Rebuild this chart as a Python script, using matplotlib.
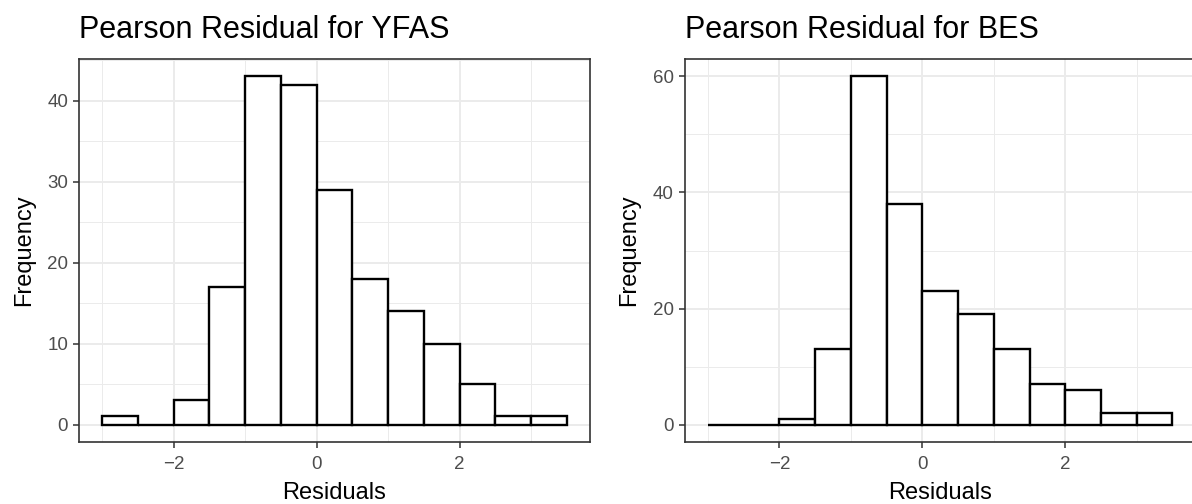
import matplotlib
matplotlib.use("Agg")
import matplotlib.pyplot as plt
import numpy as np

plt.rcParams['font.family'] = ['Liberation Sans', 'DejaVu Sans']

# Histogram bins (edges) shared by both panels
bin_edges = [-3.0, -2.5, -2.0, -1.5, -1.0, -0.5, 0.0, 0.5, 1.0, 1.5, 2.0, 2.5, 3.0, 3.5]
yfas_counts = [1, 0, 3, 17, 43, 42, 29, 18, 14, 10, 5, 1, 1]
bes_counts = [0, 0, 1, 13, 60, 38, 23, 19, 13, 7, 6, 2, 2]

titles = ["Pearson Residual for YFAS", "Pearson Residual for BES"]
x_label = "Residuals"
y_label = "Frequency"
x_major = [-2, 0, 2]
x_minor = [-3, -1, 1, 3]
yfas_major = [0, 10, 20, 30, 40]
yfas_minor = [5, 15, 25, 35, 45]
bes_major = [0, 20, 40, 60]
bes_minor = [10, 30, 50]

W, H = 1192, 504
fig = plt.figure(figsize=(W / 100, H / 100), dpi=100)
pw = 511 / W
pb = (H - 442) / H
ph = (442 - 59) / H
ax1 = fig.add_axes([79 / W, pb, pw, ph])
ax2 = fig.add_axes([684.7 / W, pb, pw, ph])

def draw(ax, counts, title, ymaj, ymin):
    edges = np.array(bin_edges)
    lefts = edges[:-1]
    widths = np.diff(edges)
    ax.bar(lefts, counts, width=widths, align='edge', color='white',
           edgecolor='black', linewidth=1.7, zorder=3)
    lo, hi = edges[0], edges[-1]
    ex = (hi - lo) * 0.05
    ax.set_xlim(lo - ex, hi + ex)
    ymax = max(counts)
    ey = ymax * 0.05
    ax.set_ylim(-ey, ymax + ey)
    ax.set_xticks(x_major)
    ax.set_xticks(x_minor, minor=True)
    ax.set_yticks(ymaj)
    ax.set_yticks(ymin, minor=True)
    ax.set_xticklabels([f"{v}".replace("-", "\u2212") for v in x_major])
    ax.grid(which='major', color='#EBEBEB', linewidth=1.4, zorder=0)
    ax.grid(which='minor', color='#EBEBEB', linewidth=0.7, zorder=0)
    ax.set_axisbelow(True)
    for s in ax.spines.values():
        s.set_color('#333333')
        s.set_linewidth(1.2)
    ax.tick_params(which='major', length=4.3, width=1.1, color='#333333',
                   labelsize=13.5, labelcolor='#4D4D4D')
    ax.tick_params(axis='x', which='major', pad=6)
    ax.tick_params(axis='y', which='major', pad=3.5)
    ax.tick_params(which='minor', length=0)
    ax.set_xlabel(x_label, fontsize=17, labelpad=6, color='black')
    ax.set_ylabel(y_label, fontsize=17, labelpad=9, color='black')
    ax.set_title(title, loc='left', fontsize=22, pad=15)

draw(ax1, yfas_counts, titles[0], yfas_major, yfas_minor)
draw(ax2, bes_counts, titles[1], bes_major, bes_minor)

fig.savefig("out.png", dpi=100)
